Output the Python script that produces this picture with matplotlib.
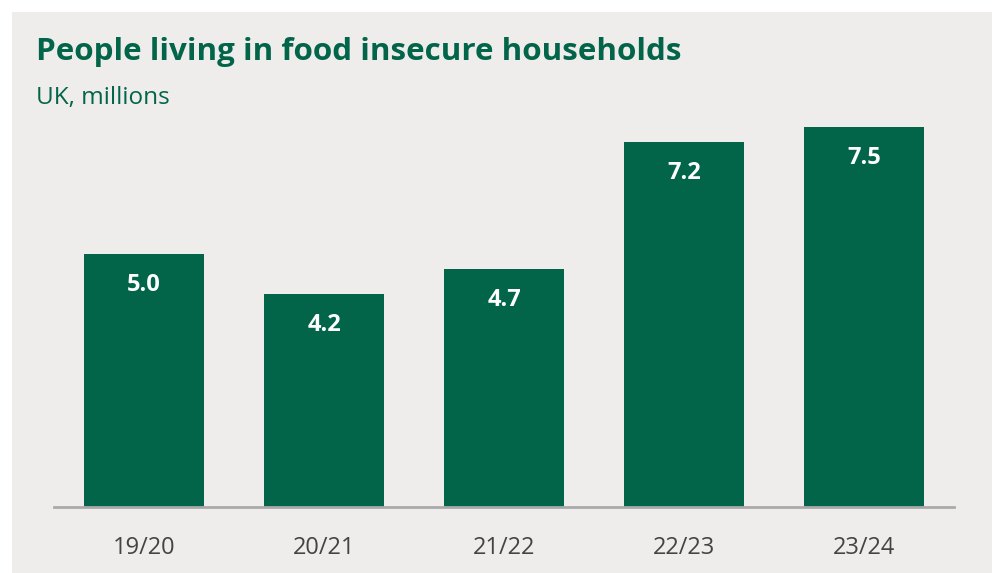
import matplotlib as mpl
import matplotlib.pyplot as plt
from matplotlib.patches import Rectangle

years = ['19/20', '20/21', '21/22', '22/23', '23/24']
people = [5.0, 4.2, 4.7, 7.2, 7.5]

green = '#02654a'
panel = '#efedeb'

mpl.rcParams['font.family'] = ['Open Sans', 'DejaVu Sans']

fig = plt.figure(figsize=(9.92, 5.73), dpi=100)
fig.patch.set_facecolor('white')
# grey panel, leaving a thin white margin top and left
fig.patches.append(Rectangle((12/992, 0), 1, 1 - 12/573, transform=fig.transFigure,
                             facecolor=panel, edgecolor='none', zorder=-1))

ax = fig.add_axes([54/992, 66/573, 900/992, 380/573])
ax.set_facecolor('none')

x = range(len(years))
bars = ax.bar(x, people, width=120/180, color=green)
for xi, v in zip(x, people):
    ax.annotate(f'{v:.1f}', (xi, v), xytext=(0, -31), textcoords='offset pixels',
                ha='center', va='center', color='white', fontsize=17, fontweight='bold')

ax.set_xlim(-0.5, 4.5)
ax.set_ylim(0, 7.5)
ax.set_xticks(list(x))
ax.set_xticklabels(years, fontsize=17, color='#444444')
ax.tick_params(axis='x', length=0, pad=21)
ax.set_yticks([])
for s in ['top', 'right', 'left']:
    ax.spines[s].set_visible(False)
ax.spines['bottom'].set_color('#aaaaaa')
ax.spines['bottom'].set_linewidth(2)

fig.text(36/992, 1 - 52/573, 'People living in food insecure households',
         fontsize=22.6, fontweight='bold', color=green, va='center')
fig.text(36/992, 1 - 98/573, 'UK, millions', fontsize=17.5, color=green, va='center')

fig.savefig('out.png', dpi=100, facecolor=fig.get_facecolor())
